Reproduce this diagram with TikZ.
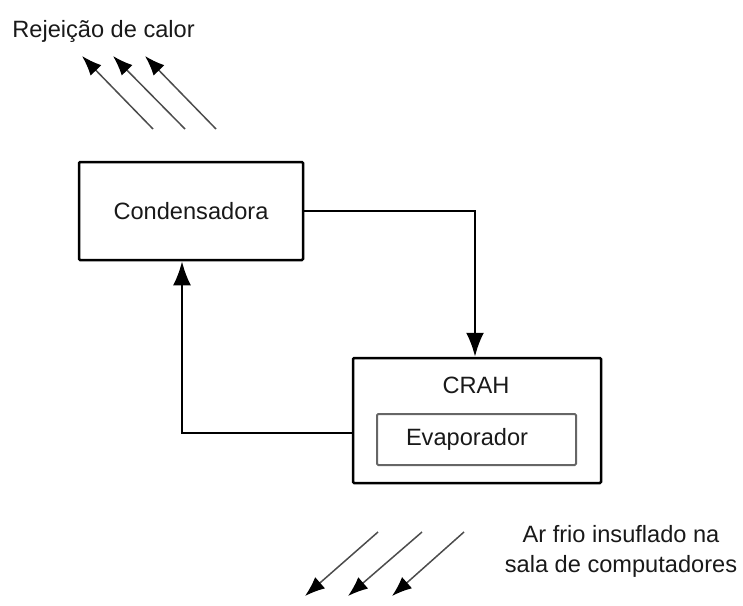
\documentclass[tikz,border=0pt]{standalone}
\usepackage{fontspec}
\setmainfont{Liberation Sans}
\usetikzlibrary{arrows.meta}
\begin{document}
\begin{tikzpicture}[x=0.5pt,y=-0.5pt,
  font=\fontsize{11.8}{14}\selectfont,
  box/.style={draw=black,line width=1.25pt,rounded corners=0.6pt,inner sep=0pt},
  innerbox/.style={draw=black!60,line width=1pt,rounded corners=0.6pt,inner sep=0pt},
  flow/.style={line width=1.25pt,-{Latex[length=12pt,width=9pt]}},
  air/.style={draw=black!70,line width=0.75pt,-{Latex[length=10pt,width=7.5pt,black]}},
  lbl/.style={inner sep=0pt,text=black!90}]
\useasboundingbox (0,0) rectangle (743,605);
\node[box,minimum width=112pt,minimum height=49pt] (cond) at (191,211) {};
\node[lbl] (condt) at (191,211) {Condensadora};
\node[box,minimum width=124pt,minimum height=62.5pt] (crah) at (477,420.5) {};
\node[lbl] (craht) at (476,385) {CRAH};
\node[innerbox,minimum width=99.5pt,minimum height=25.5pt] (evap) at (476.5,439.5) {};
\node[lbl] (evapt) at (467,439) {Evaporador};
\draw[flow] (cond.east) -| ([xshift=-1pt]crah.north);
\draw[flow] ([yshift=-6.25pt]crah.west) -| ([xshift=-4.5pt]cond.south);
% heat rejection
\node[lbl,anchor=west] (rej) at (12,31) {Rejeição de calor};
\coordinate (r1a) at (153,129); \coordinate (r1b) at (82,56);
\coordinate (r2a) at (185,129); \coordinate (r2b) at (113,56);
\coordinate (r3a) at (216,129); \coordinate (r3b) at (145,56);
\draw[air] (r1a) -- (r1b);
\draw[air] (r2a) -- (r2b);
\draw[air] (r3a) -- (r3b);
% cold air
\coordinate (c1a) at (378,532); \coordinate (c1b) at (305,596);
\coordinate (c2a) at (422,532); \coordinate (c2b) at (348,596);
\coordinate (c3a) at (464,532); \coordinate (c3b) at (392,596);
\draw[air] (c1a) -- (c1b);
\draw[air] (c2a) -- (c2b);
\draw[air] (c3a) -- (c3b);
\node[lbl,align=center] (cold) at (621,551) {Ar frio insuflado na\\[1pt]sala de computadores};
\end{tikzpicture}
\end{document}
